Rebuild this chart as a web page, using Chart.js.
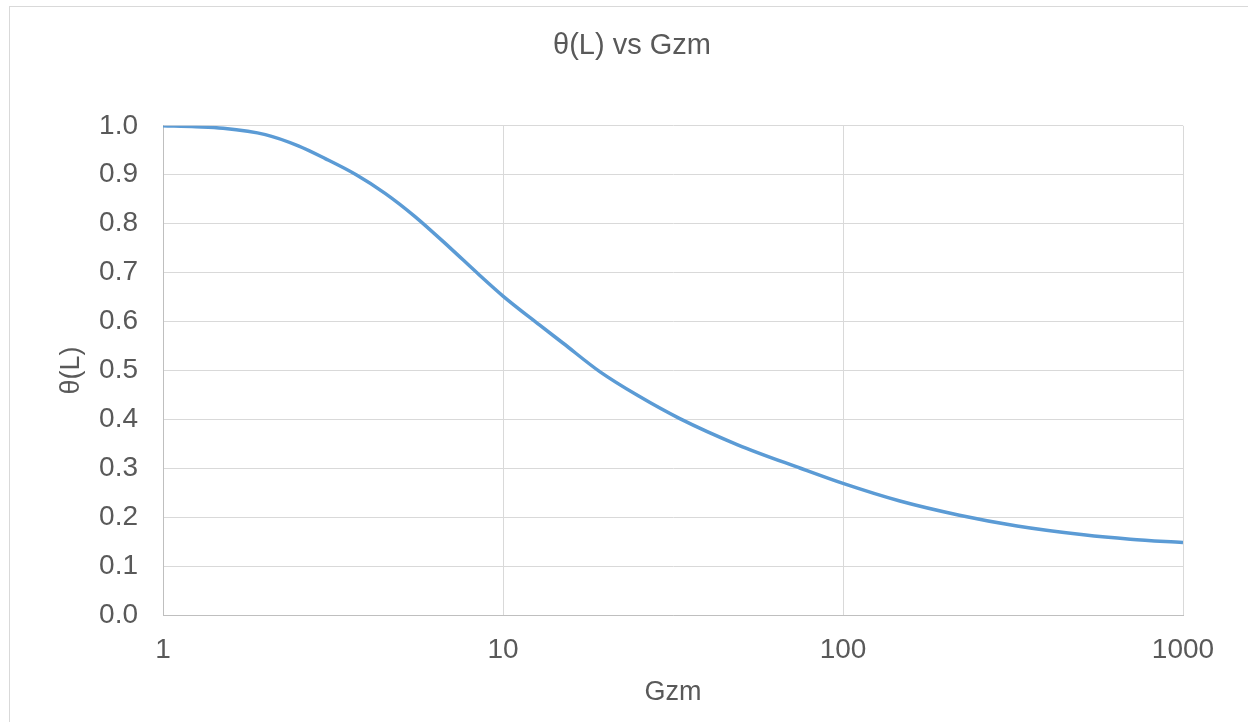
<!DOCTYPE html>
<html>
<head>
<meta charset="utf-8">
<script src="https://cdn.jsdelivr.net/npm/chart.js@4.4.0/dist/chart.umd.min.js"></script>
<style>
  html, body { margin: 0; padding: 0; background: #fff; overflow: hidden; }
  #frame { position: absolute; left: 9px; top: 6px; width: 1400px; height: 900px; border: 1px solid #d9d9d9; }
  #chart { position: absolute; left: 0; top: 0; }
</style>
</head>
<body>
<div id="frame"></div>
<canvas id="chart" width="1248" height="722"></canvas>
<script>
// values
var GzmValues = [1, 1.25, 1.5, 2, 2.5, 3, 3.7, 4.5, 5.5, 7, 8.4, 10, 12.8, 15, 19.3, 25, 33, 49, 75, 100, 147, 220, 325, 510, 700, 1000];
var ThetaValues = [1.0, 0.998, 0.995, 0.982, 0.959, 0.933, 0.900, 0.862, 0.815, 0.750, 0.699, 0.652, 0.593, 0.556, 0.497, 0.448, 0.402, 0.348, 0.300, 0.269, 0.233, 0.204, 0.182, 0.164, 0.155, 0.148];
var XTicks = [1, 10, 100, 1000];

var points = [];
for (var i = 0; i < GzmValues.length; i++) {
    points.push({x: GzmValues[i], y: ThetaValues[i]});
}

var textColor = '#595959';
var gridColor = '#d9d9d9';
var fontFamily = '"Liberation Sans", Arial, sans-serif';

const ctx = document.getElementById('chart').getContext('2d');
const thetaChart = new Chart(ctx, {
    type: 'line',
    data: {
        datasets: [{
            label: 'θ(L)',
            data: points,
            borderColor: '#5b9bd5',
            borderWidth: 3.5,
            pointRadius: 0,
            fill: false,
            cubicInterpolationMode: 'monotone'
        }]
    },
    options: {
        responsive: false,
        animation: false,
        // title is centred on the framed box, not on the plot
        layout: { padding: { left: 16, right: 0, top: 0, bottom: 0 } },
        plugins: {
            legend: { display: false },
            tooltip: { enabled: false },
            title: {
                display: true,
                text: 'θ(L) vs Gzm',
                color: textColor,
                font: { family: fontFamily, size: 29, weight: 'normal' },
                padding: { top: 29, bottom: 62 }
            }
        },
        scales: {
            x: {
                type: 'logarithmic',
                min: 1,
                max: 1000,
                afterBuildTicks: function (axis) {
                    axis.ticks = XTicks.map(function (v) { return {value: v}; });
                },
                afterFit: function (axis) { axis.height = 107; },
                ticks: {
                    color: textColor,
                    font: { family: fontFamily, size: 28 },
                    padding: 18,
                    maxRotation: 0,
                    callback: function (v) { return String(v); }
                },
                grid: { color: gridColor, lineWidth: 1, drawTicks: false },
                border: { color: '#bfbfbf', width: 1 },
                title: {
                    display: true,
                    text: 'Gzm',
                    color: textColor,
                    font: { family: fontFamily, size: 27 },
                    padding: { top: 4, bottom: 13 }
                }
            },
            y: {
                min: 0,
                max: 1,
                afterFit: function (axis) { axis.width = 147; },
                ticks: {
                    stepSize: 0.1,
                    color: textColor,
                    font: { family: fontFamily, size: 28 },
                    padding: 25,
                    callback: function (v) { return v.toFixed(1); }
                },
                grid: { color: gridColor, lineWidth: 1, drawTicks: false },
                border: { color: '#bfbfbf', width: 1 },
                title: {
                    display: true,
                    text: 'θ(L)',
                    color: textColor,
                    font: { family: fontFamily, size: 27 },
                    padding: { top: 39, bottom: 4 }
                }
            },
            // empty spacer on the right
            yRight: {
                position: 'right',
                min: 0,
                max: 1,
                afterFit: function (axis) { axis.width = 65; },
                ticks: { display: false },
                grid: { display: false },
                border: { display: false }
            }
        }
    }
});
</script>
</body>
</html>
